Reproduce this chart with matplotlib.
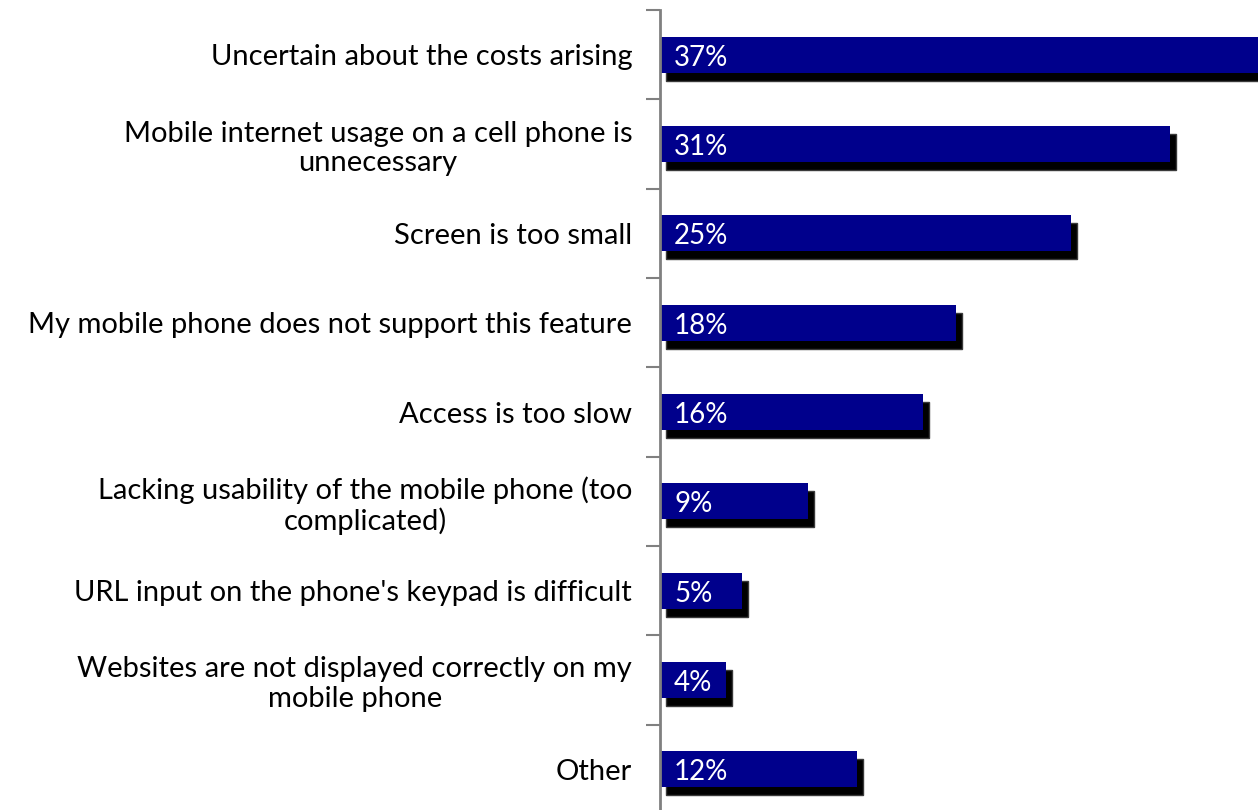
import matplotlib
matplotlib.use("Agg")
import matplotlib.pyplot as plt
import matplotlib.transforms as mtransforms
from matplotlib.patches import Rectangle

categories = [
    "Uncertain about the costs arising",
    "Mobile internet usage on a cell phone is\nunnecessary",
    "Screen is too small",
    "My mobile phone does not support this feature",
    "Access is too slow",
    "Lacking usability of the mobile phone (too\ncomplicated)",
    "URL input on the phone's keypad is difficult",
    "Websites are not displayed correctly on my\nmobile phone",
    "Other",
]
values = [37, 31, 25, 18, 16, 9, 5, 4, 12]
labels = ["37%", "31%", "25%", "18%", "16%", "9%", "5%", "4%", "12%"]

plt.rcParams['font.family'] = ['Lato', 'DejaVu Sans']

W, H = 1258, 810
fig = plt.figure(figsize=(W / 100, H / 100), dpi=100)
ax_left = 660 / W
ax_top = 10
ax_bottom = 814
ax = fig.add_axes([ax_left, (H - ax_bottom) / H, 1 - ax_left, (ax_bottom - ax_top) / H])

n = len(categories)
ys = list(range(n))
bar_h = 0.4
navy = '#00008C'

ax.set_xlim(0, 36.35)
ax.set_ylim(n - 0.5, -0.5)

# shadows
shadow_tf = ax.transData + mtransforms.ScaledTranslation(6 / 100, -8 / 100, fig.dpi_scale_trans)
for y, v in zip(ys, values):
    r = Rectangle((0, y - bar_h / 2), v, bar_h, facecolor='black', edgecolor='#3a3a3a',
                  linewidth=1.0, transform=shadow_tf, zorder=1)
    ax.add_patch(r)

ax.barh(ys, values, height=bar_h, color=navy, zorder=2)

for y, lab in zip(ys, labels):
    ax.annotate(lab, xy=(0, y), xytext=(14, -3), textcoords='offset pixels',
                ha='left', va='center', color='white', fontsize=20, zorder=3)

ax.set_yticks(ys)
ax.set_yticklabels(categories, fontsize=21, multialignment='center', linespacing=1.15)
ax.tick_params(axis='y', which='major', length=0, pad=20)
ax.set_yticks([i - 0.5 for i in range(n + 1)], minor=True)
ax.tick_params(axis='y', which='minor', length=10, width=1.5, color='#808080', direction='out')
ax.set_xticks([])

for s in ['top', 'right', 'bottom']:
    ax.spines[s].set_visible(False)
ax.spines['left'].set_color('#808080')
ax.spines['left'].set_linewidth(2)

fig.savefig('out.png', dpi=100)
